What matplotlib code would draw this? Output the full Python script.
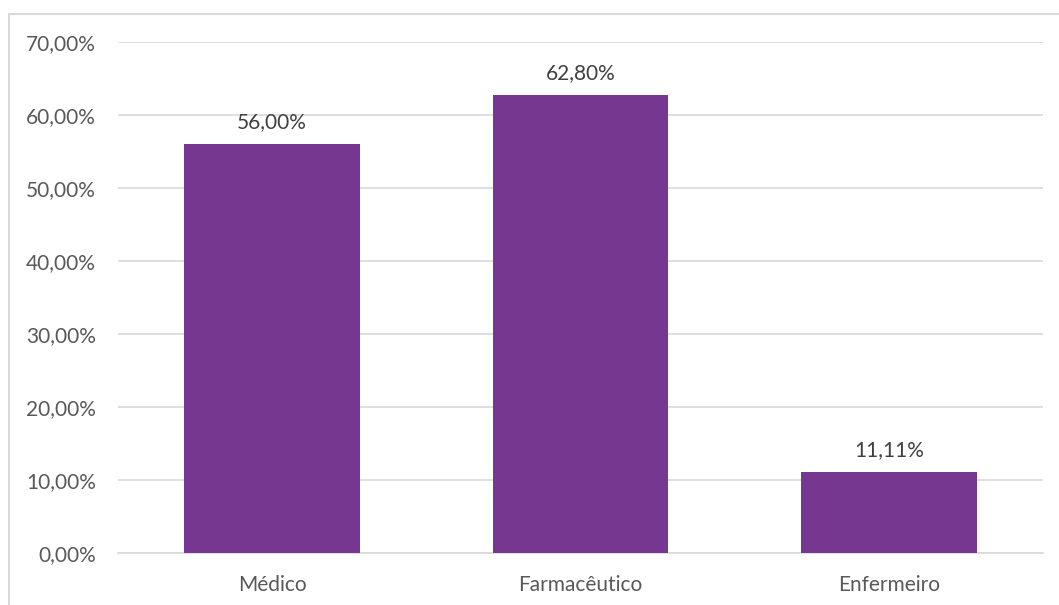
import matplotlib.pyplot as plt
from matplotlib.lines import Line2D
from matplotlib.ticker import FuncFormatter

categorias = ['Médico', 'Farmacêutico', 'Enfermeiro']
valores = [56.00, 62.80, 11.11]
yticks = [0, 10, 20, 30, 40, 50, 60, 70]

plt.rcParams['font.family'] = ['Lato', 'DejaVu Sans']
cor_texto = '#595959'

fig = plt.figure(figsize=(10.59, 6.05), dpi=100)
ax = fig.add_axes([0.1114, 0.086, 0.8736, 0.8446])

# moldura do gráfico (só topo e esquerda aparecem no recorte)
xl, yt = 8.5 / 1059, 1 - 13.5 / 605
fig.lines.append(Line2D([xl, 1], [yt, yt], transform=fig.transFigure,
                        color='#D9D9D9', linewidth=1.5))
fig.lines.append(Line2D([xl, xl], [0, yt], transform=fig.transFigure,
                        color='#D9D9D9', linewidth=1.5))

x = range(len(categorias))
barras = ax.bar(x, valores, width=0.57, color='#763790', zorder=3)

def fmt(v):
    return f'{v:.2f}'.replace('.', ',') + '%'

for b, v in zip(barras, valores):
    ax.text(b.get_x() + b.get_width() / 2, v + 1.6, fmt(v),
            ha='center', va='bottom', fontsize=15, color='#404040')

ax.set_xlim(-0.5, 2.5)
ax.set_ylim(0, 70)
ax.set_yticks(yticks)
ax.yaxis.set_major_formatter(FuncFormatter(lambda v, p: fmt(v)))
ax.set_xticks(list(x))
ax.set_xticklabels(categorias)
ax.grid(axis='y', color='#D9D9D9', linewidth=1.2, zorder=0)
for s in ['top', 'right', 'left']:
    ax.spines[s].set_visible(False)
ax.spines['bottom'].set_color('#D9D9D9')
ax.spines['bottom'].set_linewidth(1.2)
ax.tick_params(axis='both', length=0, labelsize=15, colors=cor_texto)
ax.tick_params(axis='y', pad=16)
ax.tick_params(axis='x', pad=16)

fig.savefig('out.png', dpi=100)
